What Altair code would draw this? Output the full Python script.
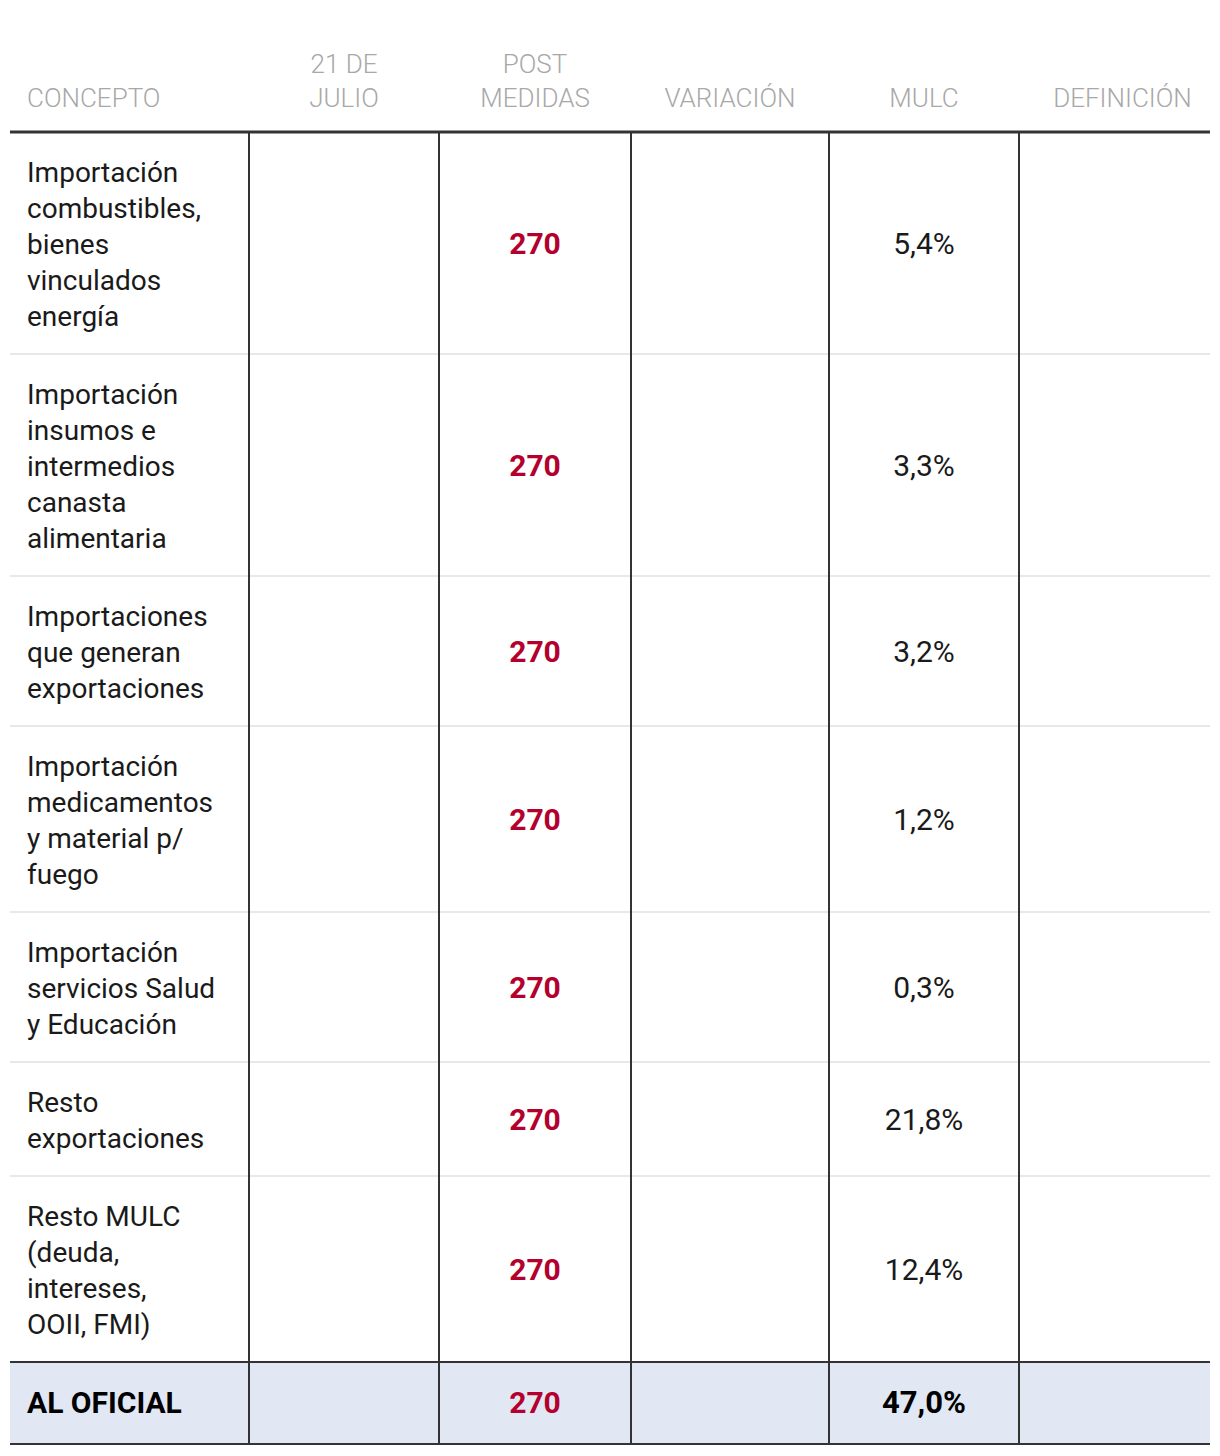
import altair as alt
import pandas as pd

# ---------------- data ----------------
headers = [["CONCEPTO"], ["21 DE", "JULIO"], ["POST", "MEDIDAS"], ["VARIACIÓN"], ["MULC"], ["DEFINICIÓN"]]
concepts = [
    ["Importación", "combustibles,", "bienes", "vinculados", "energía"],
    ["Importación", "insumos e", "intermedios", "canasta", "alimentaria"],
    ["Importaciones", "que generan", "exportaciones"],
    ["Importación", "medicamentos", "y material p/", "fuego"],
    ["Importación", "servicios Salud", "y Educación"],
    ["Resto", "exportaciones"],
    ["Resto MULC", "(deuda,", "intereses,", "OOII, FMI)"],
]
post_medidas = [270, 270, 270, 270, 270, 270, 270]
mulc = [5.4, 3.3, 3.2, 1.2, 0.3, 21.8, 12.4]
total_label = "AL OFICIAL"
total_post = 270
total_mulc = 47.0

# ---------------- layout / style ----------------
col_widths = [239, 190, 192, 198, 190, 191]
LINE = 36
ROW_PAD = 42
HEADER_H = 123
TOTAL_H = 82
W = sum(col_widths)
H = 1440
RED = "#b3002d"
DARK = "#333333"
LIGHT = "#e8e8e8"
FONT = "Roboto"

edges = [0]
for w in col_widths:
    edges.append(edges[-1] + w)
centers = [(edges[i] + edges[i + 1]) / 2 for i in range(len(col_widths))]
hdr_shift = [0, 0, 0, 0, 0, 8]


def fmt(v):
    return f"{v:.1f}".replace(".", ",") + "%"


# row extents
rows = []
top = HEADER_H
for lines in concepts:
    h = LINE * len(lines) + ROW_PAD
    rows.append((top, top + h))
    top += h
total_top = top
total_bot = top + TOTAL_H

# header text
hdr = []
for i, lines in enumerate(headers):
    n = len(lines)
    for j, t in enumerate(lines):
        hdr.append({"x": 17 if i == 0 else centers[i] + hdr_shift[i], "y": 90 - 34 * (n - 1 - j), "t": t,
                    "al": "left" if i == 0 else "center"})
hdr = pd.DataFrame(hdr)

# concept text
ctext = []
for (t0, t1), lines in zip(rows, concepts):
    for j, t in enumerate(lines):
        ctext.append({"x": 17, "y": t0 + 42 + LINE * j, "t": t})
ctext = pd.DataFrame(ctext)

nums = pd.DataFrame([{"x": centers[2], "y": (t0 + t1) / 2 + 2, "t": str(v)} for (t0, t1), v in zip(rows, post_medidas)])
pcts = pd.DataFrame([{"x": centers[4], "y": (t0 + t1) / 2 + 2, "t": fmt(v)} for (t0, t1), v in zip(rows, mulc)])

tot_mid = (total_top + total_bot) / 2 + 1
tot_lab = pd.DataFrame([{"x": 17, "y": tot_mid, "t": total_label}])
tot_num = pd.DataFrame([{"x": centers[2], "y": tot_mid, "t": str(total_post)}])
tot_pct = pd.DataFrame([{"x": centers[4], "y": tot_mid, "t": fmt(total_mulc)}])

bg = pd.DataFrame([{"x": 0, "x2": W, "y": total_top, "y2": total_bot}])
light = pd.DataFrame([{"x": 0, "x2": W, "y": t1} for (t0, t1) in rows[:-1]])
vlines = pd.DataFrame([{"x": e, "y": HEADER_H, "y2": total_bot} for e in edges[1:-1]])
hdark = pd.DataFrame([
    {"x": 0, "x2": W, "y": HEADER_H, "w": 3},
    {"x": 0, "x2": W, "y": total_top, "w": 2},
    {"x": 0, "x2": W, "y": total_bot, "w": 2},
])

xs = alt.Scale(domain=[0, W], range=[0, W], nice=False, zero=False)
ys = alt.Scale(domain=[0, H], range=[0, H], nice=False, zero=False)
X = lambda f="x": alt.X(f"{f}:Q", scale=xs, axis=None)
Y = lambda f="y": alt.Y(f"{f}:Q", scale=ys, axis=None)

bg_layer = alt.Chart(bg).mark_rect(color="#e1e8f4").encode(x=X(), x2="x2:Q", y=Y(), y2="y2:Q")
light_layer = alt.Chart(light).mark_rule(color=LIGHT, strokeWidth=2).encode(x=X(), x2="x2:Q", y=Y())
v_layer = alt.Chart(vlines).mark_rule(color=DARK, strokeWidth=2).encode(x=X(), y=Y(), y2="y2:Q")
h_layer = alt.Chart(hdark).mark_rule(color=DARK).encode(
    x=X(), x2="x2:Q", y=Y(), strokeWidth=alt.StrokeWidth("w:Q", scale=None, legend=None)
)

hdr_left = alt.Chart(hdr[hdr.al == "left"]).mark_text(
    align="left", baseline="middle", font=FONT, fontSize=26, fontWeight=300, color="#a8a8a8"
).encode(x=X(), y=Y(), text="t:N")
hdr_center = alt.Chart(hdr[hdr.al == "center"]).mark_text(
    align="center", baseline="middle", font=FONT, fontSize=26, fontWeight=300, color="#a8a8a8"
).encode(x=X(), y=Y(), text="t:N")
c_layer = alt.Chart(ctext).mark_text(
    align="left", baseline="middle", font=FONT, fontSize=28, color="#1a1a1a"
).encode(x=X(), y=Y(), text="t:N")
n_layer = alt.Chart(nums).mark_text(
    align="center", baseline="middle", font=FONT, fontSize=30, fontWeight="bold", color=RED
).encode(x=X(), y=Y(), text="t:N")
p_layer = alt.Chart(pcts).mark_text(
    align="center", baseline="middle", font=FONT, fontSize=30, color="#1a1a1a"
).encode(x=X(), y=Y(), text="t:N")
tl_layer = alt.Chart(tot_lab).mark_text(
    align="left", baseline="middle", font=FONT, fontSize=30, fontWeight="bold", color="#000"
).encode(x=X(), y=Y(), text="t:N")
tn_layer = alt.Chart(tot_num).mark_text(
    align="center", baseline="middle", font=FONT, fontSize=30, fontWeight="bold", color=RED
).encode(x=X(), y=Y(), text="t:N")
tp_layer = alt.Chart(tot_pct).mark_text(
    align="center", baseline="middle", font=FONT, fontSize=31, fontWeight="bold", color="#000"
).encode(x=X(), y=Y(), text="t:N")

chart = alt.layer(
    bg_layer, light_layer, v_layer, h_layer,
    hdr_left, hdr_center, c_layer, n_layer, p_layer, tl_layer, tn_layer, tp_layer
).properties(
    width=W, height=H, padding={"left": 2, "top": 1, "right": 0, "bottom": 0},
    autosize=alt.AutoSizeParams(type="none"), background="white"
).configure_view(stroke=None)

chart.save("out.html", embed_options={"renderer": "svg", "actions": False})
